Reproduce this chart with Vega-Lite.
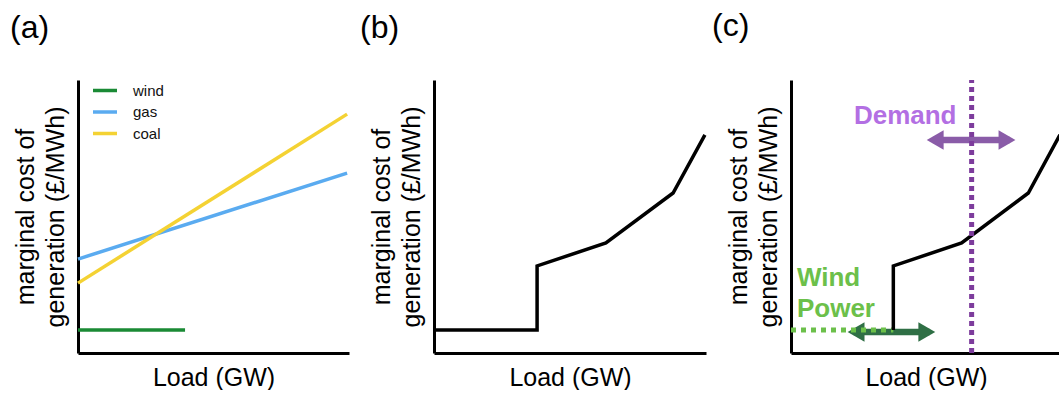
{
"$schema":"https://vega.github.io/schema/vega-lite/v6.json",
"padding":{"left":10,"top":9,"right":0,"bottom":0},
"background":"white",
"config":{"font":"Liberation Sans","view":{"stroke":null},
 "axis":{"domainColor":"black","domainWidth":3,"ticks":false,"labels":false,"grid":false,"titleFont":"Liberation Sans","titleFontSize":25,"titleFontWeight":"normal","titleColor":"black","titleLineHeight":30},
 "axisX":{"titlePadding":12},
 "axisY":{"titlePadding":10},
 "title":{"fontSize":32,"fontWeight":"normal","anchor":"start","frame":"group","baseline":"alphabetic","offset":35,"color":"black","font":"Liberation Sans"}},
"bounds":"flush",
"spacing":85,
"datasets":{
 "costs":[{"tech":"wind","load":0,"cost":8.4},{"tech":"wind","load":39.5,"cost":8.4},{"tech":"gas","load":0,"cost":34.4},{"tech":"gas","load":99.3,"cost":65.9},{"tech":"coal","load":0,"cost":25.6},{"tech":"coal","load":99.3,"cost":87.5}],
 "curve":[{"step":1,"load":0,"cost":8.4},{"step":2,"load":37.9,"cost":8.4},{"step":3,"load":37.9,"cost":31.9},{"step":4,"load":63.2,"cost":40.3},{"step":5,"load":87.9,"cost":58.6},{"step":6,"load":99.6,"cost":79.9}],
 "windsupply":[{"load":0,"cost":8.4},{"load":37.9,"cost":8.4}],
 "arrows":[{"arrow":"demand","x_start":52.5,"x_end":81,"y":78.0},{"arrow":"wind","x_start":23.2,"x_end":51.3,"y":7.7}],
 "heads":[{"arrow":"demand","side":"left","x":53.4,"y":78.0},{"arrow":"demand","side":"right","x":80.0,"y":78.0},{"arrow":"wind","side":"left","x":24.1,"y":7.7},{"arrow":"wind","side":"right","x":50.3,"y":7.7}],
 "demand":[{"load":66.9,"lo":0,"hi":100}],
 "labels":[{"label":"Demand","kind":"demand","x":23.3,"y":83.9},{"label":"Wind","kind":"wind","x":2.2,"y":24.5},{"label":"Power","kind":"wind","x":2.2,"y":13.2}]
},
"hconcat":[
 {"width":271,"height":273,
  "title":{"text":"(a)","dx":-68},
  "data":{"name":"costs"},
  "mark":{"type":"line","strokeWidth":3.5},
  "encoding":{
   "x":{"field":"load","type":"quantitative","scale":{"domain":[0,100]},"title":"Load (GW)"},
   "y":{"field":"cost","type":"quantitative","scale":{"domain":[0,100]},"title":["marginal cost of","generation (£/MWh)"]},
   "color":{"field":"tech","type":"nominal","scale":{"domain":["wind","gas","coal"],"range":["#1a8a35","#5aabf0","#f4d233"]},
     "legend":{"title":null,"orient":"none","legendX":13,"legendY":3,"symbolType":"stroke","symbolSize":576,"symbolStrokeWidth":3.5,"labelFontSize":15,"labelFont":"Liberation Sans","labelColor":"#111","clipHeight":15,"rowPadding":5.5,"labelOffset":14}}
  }
 },
 {"width":272,"height":273,
  "title":{"text":"(b)","dx":-74},
  "data":{"name":"curve"},
  "mark":{"type":"line","strokeWidth":3.5,"color":"black"},
  "encoding":{
   "x":{"field":"load","type":"quantitative","scale":{"domain":[0,100]},"title":"Load (GW)"},
   "y":{"field":"cost","type":"quantitative","scale":{"domain":[0,100]},"title":["marginal cost of","generation (£/MWh)"]},
   "order":{"field":"step"}
  }
 },
 {"width":270,"height":273,
  "title":{"text":"(c)","dx":-79},
  "encoding":{
   "x":{"type":"quantitative","scale":{"domain":[0,100]},"title":"Load (GW)"},
   "y":{"type":"quantitative","scale":{"domain":[0,100]},"title":["marginal cost of","generation (£/MWh)"]}
  },
  "layer":[
   {"data":{"name":"arrows"},"mark":{"type":"rule","strokeWidth":6.5},
    "encoding":{"x":{"field":"x_start","type":"quantitative"},"x2":{"field":"x_end"},"y":{"field":"y","type":"quantitative"},
     "color":{"field":"arrow","type":"nominal","scale":{"domain":["demand","wind"],"range":["#8a5ca8","#2f6f45"]},"legend":null}}},
   {"data":{"name":"heads"},"mark":{"type":"point","filled":true,"opacity":1,"size":380},
    "encoding":{"x":{"field":"x","type":"quantitative"},"y":{"field":"y","type":"quantitative"},
     "shape":{"field":"side","type":"nominal","scale":{"domain":["left","right"],"range":["triangle-left","triangle-right"]},"legend":null},
     "color":{"field":"arrow","type":"nominal","scale":{"domain":["demand","wind"],"range":["#8a5ca8","#2f6f45"]},"legend":null}}},
   {"data":{"name":"windsupply"},"mark":{"type":"line","strokeWidth":5,"color":"#6cc04a","strokeDash":[5,5]},
    "encoding":{"x":{"field":"load","type":"quantitative"},"y":{"field":"cost","type":"quantitative"}}},
   {"data":{"name":"curve"},"transform":[{"filter":"datum.step > 1"}],"mark":{"type":"line","strokeWidth":3.5,"color":"black"},
    "encoding":{"x":{"field":"load","type":"quantitative"},"y":{"field":"cost","type":"quantitative"},"order":{"field":"step"}}},
   {"data":{"name":"demand"},"mark":{"type":"rule","strokeWidth":5,"color":"#7d3c9c","strokeDash":[5,4]},
    "encoding":{"x":{"field":"load","type":"quantitative"},"y":{"field":"lo","type":"quantitative"},"y2":{"field":"hi"}}},
   {"data":{"name":"labels"},"mark":{"type":"text","fontSize":26,"fontWeight":"bold","align":"left","baseline":"alphabetic","font":"Liberation Sans"},
    "encoding":{"x":{"field":"x","type":"quantitative"},"y":{"field":"y","type":"quantitative"},"text":{"field":"label"},
     "color":{"field":"kind","type":"nominal","scale":{"domain":["demand","wind"],"range":["#b36fe3","#6cc04a"]},"legend":null}}}
  ],
  "resolve":{"scale":{"color":"independent"}}
 }
],
"resolve":{"scale":{"color":"independent"}}
}
